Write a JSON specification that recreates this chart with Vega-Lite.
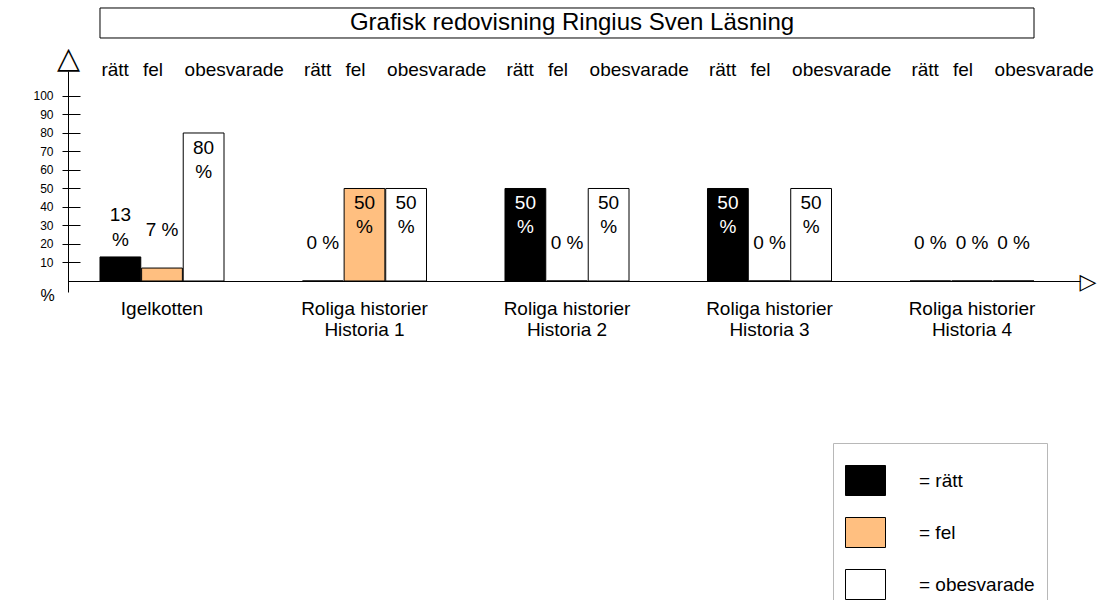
{
  "$schema": "https://vega.github.io/schema/vega-lite/v6.json",
  "width": 1012,
  "height": 221,
  "autosize": {"type": "none"},
  "padding": {"left": 68, "top": 71, "right": 17, "bottom": 308},
  "background": "white",
  "config": {"view": {"stroke": null}, "font": "Liberation Sans"},
  "data": {
    "values": [
      {"group": "Igelkotten", "series": "rätt", "value": 13},
      {"group": "Igelkotten", "series": "fel", "value": 7},
      {"group": "Igelkotten", "series": "obesvarade", "value": 80},
      {"group": "Roliga historier Historia 1", "series": "rätt", "value": 0},
      {"group": "Roliga historier Historia 1", "series": "fel", "value": 50},
      {"group": "Roliga historier Historia 1", "series": "obesvarade", "value": 50},
      {"group": "Roliga historier Historia 2", "series": "rätt", "value": 50},
      {"group": "Roliga historier Historia 2", "series": "fel", "value": 0},
      {"group": "Roliga historier Historia 2", "series": "obesvarade", "value": 50},
      {"group": "Roliga historier Historia 3", "series": "rätt", "value": 50},
      {"group": "Roliga historier Historia 3", "series": "fel", "value": 0},
      {"group": "Roliga historier Historia 3", "series": "obesvarade", "value": 50},
      {"group": "Roliga historier Historia 4", "series": "rätt", "value": 0},
      {"group": "Roliga historier Historia 4", "series": "fel", "value": 0},
      {"group": "Roliga historier Historia 4", "series": "obesvarade", "value": 0}
    ]
  },
  "layer": [
    {
      "data": {"values": [{}]},
      "mark": {"type": "rect", "fillOpacity": 0, "stroke": "black", "strokeWidth": 1},
      "encoding": {
        "x": {"datum": "Igelkotten", "bandPosition": 0},
        "x2": {"datum": "Roliga historier Historia 4", "bandPosition": 1},
        "y": {"datum": 147.57, "axis": null},
        "y2": {"datum": 131.35}
      }
    },
    {
      "data": {"values": [{}]},
      "mark": {"type": "text", "align": "center", "baseline": "middle", "dx": 5, "font": "Liberation Sans", "fontSize": 24, "color": "black", "text": "Grafisk redovisning Ringius Sven  Läsning"},
      "encoding": {
        "x": {"datum": "Roliga historier Historia 2"},
        "y": {"datum": 139.46, "axis": null}
      }
    },
    {
      "mark": {"type": "bar", "stroke": "black", "strokeWidth": 1},
      "encoding": {
        "x": {
          "field": "group",
          "type": "nominal",
          "scale": {
            "domain": ["Igelkotten", "Roliga historier Historia 1", "Roliga historier Historia 2", "Roliga historier Historia 3", "Roliga historier Historia 4"],
            "paddingInner": 0.38765,
            "paddingOuter": 0.19259,
            "align": 0.41026
          },
          "axis": {
            "orient": "bottom",
            "offset": -11,
            "domain": true,
            "domainColor": "black",
            "domainWidth": 1,
            "ticks": false,
            "tickSize": 0,
            "labelAngle": 0,
            "labelAlign": "center",
            "labelFont": "Liberation Sans",
            "labelFontSize": 19,
            "labelColor": "black",
            "labelPadding": 18,
            "labelBaseline": "top",
            "labelLineHeight": 21,
            "labelLimit": 400,
            "labelExpr": "datum.label == 'Igelkotten' ? datum.label : ['Roliga historier', slice(datum.label, 17)]",
            "title": "▷",
            "titleFont": "DejaVu Sans",
            "titleFontSize": 22,
            "titleFontWeight": "normal",
            "titleColor": "black",
            "titleX": 1011,
            "titleY": 0,
            "titleAlign": "left",
            "titleBaseline": "middle",
            "titleAngle": 0
          }
        },
        "xOffset": {
          "field": "series",
          "type": "nominal",
          "scale": {"domain": ["rätt", "fel", "obesvarade"], "paddingInner": 0.02, "paddingOuter": 0}
        },
        "y": {
          "field": "value",
          "type": "quantitative",
          "scale": {"domain": [-5.946, 113.51], "nice": false, "zero": false},
          "axis": {
            "orient": "left",
            "values": [10, 20, 30, 40, 50, 60, 70, 80, 90, 100],
            "domain": true,
            "domainColor": "black",
            "domainWidth": 1,
            "ticks": false,
            "tickSize": 0,
            "grid": false,
            "labelPadding": 15,
            "labelFont": "Liberation Sans",
            "labelFontSize": 12,
            "labelColor": "black",
            "labelFlush": false,
            "labelOverlap": false,
            "title": "△",
            "titleFont": "DejaVu Sans",
            "titleFontSize": 30,
            "titleFontWeight": "normal",
            "titleColor": "black",
            "titleAngle": 0,
            "titleX": 0,
            "titleY": -4,
            "titleAlign": "center",
            "titleBaseline": "alphabetic"
          }
        },
        "y2": {"datum": 0},
        "color": {
          "field": "series",
          "type": "nominal",
          "scale": {"domain": ["rätt", "fel", "obesvarade"], "range": ["#000000", "#ffbf80", "#ffffff"]},
          "legend": {
            "orient": "none",
            "legendX": 765,
            "legendY": 372,
            "direction": "vertical",
            "title": " ",
            "titleFontSize": 1,
            "titlePadding": 4,
            "padding": 12,
            "strokeColor": "#b8b8b8",
            "symbolType": "M-1,-0.75H1V0.75H-1Z",
            "symbolSize": 1600,
            "symbolStrokeColor": "black",
            "symbolStrokeWidth": 1,
            "symbolOpacity": 1,
            "labelFont": "Liberation Sans",
            "labelFontSize": 19,
            "labelColor": "black",
            "labelOffset": 33,
            "labelLimit": 300,
            "rowPadding": 14,
            "labelExpr": "'= ' + datum.label + '\u00a0\u00a0\u00a0\u00a0\u00a0'"
          }
        }
      }
    },
    {
      "mark": {"type": "text", "align": "left", "baseline": "middle", "dx": -19, "font": "Liberation Sans", "fontSize": 19, "color": "black"},
      "encoding": {
        "x": {"field": "group", "type": "nominal"},
        "xOffset": {"field": "series", "type": "nominal"},
        "y": {
          "datum": 114,
          "axis": {
            "orient": "left",
            "offset": -12,
            "values": [10, 20, 30, 40, 50, 60, 70, 80, 90, 100],
            "domain": false,
            "ticks": true,
            "tickSize": 18,
            "tickColor": "black",
            "tickWidth": 1,
            "labels": false,
            "grid": false,
            "title": "%",
            "titleAngle": 0,
            "titleX": -33,
            "titleY": 224,
            "titleAlign": "center",
            "titleBaseline": "middle",
            "titleFont": "Liberation Sans",
            "titleFontSize": 16,
            "titleFontWeight": "normal",
            "titleColor": "black"
          }
        },
        "text": {"field": "series"}
      }
    },
    {
      "transform": [{"filter": "datum.value < 10"}],
      "mark": {"type": "text", "align": "center", "baseline": "middle", "dy": -38, "font": "Liberation Sans", "fontSize": 19, "color": "black", "text": {"expr": "datum.value + ' %'"}},
      "encoding": {
        "x": {"field": "group", "type": "nominal"},
        "xOffset": {"field": "series", "type": "nominal"},
        "y": {"field": "value", "type": "quantitative", "axis": null}
      }
    },
    {
      "transform": [{"filter": "datum.value >= 10 && datum.value < 40"}],
      "mark": {"type": "text", "align": "center", "baseline": "middle", "dy": -42, "lineHeight": 25, "font": "Liberation Sans", "fontSize": 19, "color": "black", "text": {"expr": "[datum.value + '', '%']"}},
      "encoding": {
        "x": {"field": "group", "type": "nominal"},
        "xOffset": {"field": "series", "type": "nominal"},
        "y": {"field": "value", "type": "quantitative", "axis": null}
      }
    },
    {
      "transform": [{"filter": "datum.value >= 40"}],
      "mark": {"type": "text", "align": "center", "baseline": "middle", "dy": 15, "lineHeight": 24, "font": "Liberation Sans", "fontSize": 19, "text": {"expr": "[datum.value + '', '%']"}},
      "encoding": {
        "x": {"field": "group", "type": "nominal"},
        "xOffset": {"field": "series", "type": "nominal"},
        "y": {"field": "value", "type": "quantitative", "axis": null},
        "color": {"condition": {"test": "datum.series == 'rätt'", "value": "white"}, "value": "black"}
      }
    }
  ],
  "resolve": {"axis": {"y": "independent"}}
}
